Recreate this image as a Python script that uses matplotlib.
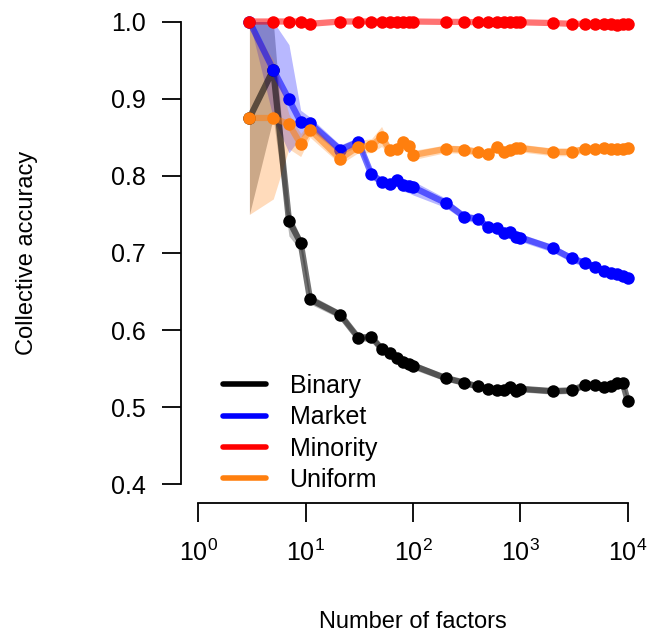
import numpy as np
import matplotlib
matplotlib.use('Agg')
import matplotlib.pyplot as plt
from matplotlib.lines import Line2D

plt.rcParams['font.family'] = ['Liberation Sans', 'DejaVu Sans']
plt.rcParams['mathtext.fontset'] = 'custom'
plt.rcParams['mathtext.rm'] = 'Liberation Sans'
plt.rcParams['mathtext.it'] = 'Liberation Sans'
plt.rcParams['mathtext.default'] = 'regular'

# number of factors (shared by all four series)
factors = [3, 5, 7, 9, 11, 21, 31, 41, 51, 61, 71, 81, 91, 101,
           201, 301, 401, 501, 601, 701, 801, 901, 1001,
           2001, 3001, 4001, 5001, 6001, 7001, 8001, 9001, 10001]

binary = [0.875, 0.9375, 0.742, 0.713, 0.640, 0.620, 0.590, 0.591, 0.576, 0.571, 0.564, 0.559, 0.556, 0.554,
          0.538, 0.532, 0.527, 0.524, 0.522, 0.523, 0.526, 0.521, 0.524,
          0.521, 0.522, 0.529, 0.529, 0.526, 0.527, 0.531, 0.531, 0.508]
binary_lo = [0.750, 0.875, 0.722, 0.703, 0.634, 0.615, 0.585, 0.586, 0.571, 0.566, 0.559, 0.554, 0.551, 0.549,
             0.534, 0.528, 0.523, 0.520, 0.518, 0.519, 0.522, 0.517, 0.520,
             0.517, 0.518, 0.525, 0.525, 0.522, 0.523, 0.527, 0.527, 0.504]
binary_hi = [1.000, 1.000, 0.755, 0.720, 0.646, 0.625, 0.595, 0.596, 0.581, 0.576, 0.569, 0.564, 0.561, 0.559,
             0.542, 0.536, 0.531, 0.528, 0.526, 0.527, 0.530, 0.525, 0.528,
             0.525, 0.526, 0.533, 0.533, 0.530, 0.531, 0.535, 0.535, 0.512]

market = [1.000, 0.9375, 0.899, 0.870, 0.868, 0.834, 0.844, 0.802, 0.7925, 0.790, 0.795, 0.788, 0.787, 0.785,
          0.765, 0.747, 0.744, 0.734, 0.733, 0.726, 0.727, 0.721, 0.720,
          0.706, 0.693, 0.687, 0.682, 0.677, 0.674, 0.6725, 0.670, 0.668]
market_lo = [1.000, 0.875, 0.830, 0.850, 0.860, 0.828, 0.838, 0.796, 0.787, 0.784, 0.789, 0.780, 0.778, 0.775,
             0.759, 0.742, 0.739, 0.729, 0.728, 0.721, 0.722, 0.716, 0.715,
             0.701, 0.688, 0.682, 0.677, 0.672, 0.669, 0.668, 0.665, 0.663]
market_hi = [1.000, 1.000, 0.970, 0.885, 0.876, 0.840, 0.850, 0.808, 0.798, 0.796, 0.801, 0.796, 0.795, 0.793,
             0.771, 0.752, 0.749, 0.739, 0.738, 0.731, 0.732, 0.726, 0.725,
             0.711, 0.698, 0.692, 0.687, 0.682, 0.679, 0.677, 0.675, 0.673]

minority = [1.000, 1.000, 1.000, 1.000, 0.997, 1.000, 1.000, 1.000, 1.000, 1.000, 1.000, 1.000, 1.000, 1.000,
            0.9995, 0.9995, 0.999, 0.999, 0.999, 0.999, 0.999, 0.999, 0.999,
            0.998, 0.997, 0.997, 0.9965, 0.9965, 0.9965, 0.996, 0.9965, 0.997]

uniform = [0.875, 0.875, 0.867, 0.841, 0.860, 0.822, 0.838, 0.839, 0.850, 0.833, 0.835, 0.844, 0.839, 0.827,
           0.835, 0.834, 0.831, 0.828, 0.838, 0.831, 0.834, 0.836, 0.836,
           0.831, 0.831, 0.835, 0.835, 0.836, 0.835, 0.835, 0.835, 0.836]
uniform_lo = [0.750, 0.770, 0.835, 0.825, 0.850, 0.815, 0.830, 0.830, 0.838, 0.826, 0.829, 0.836, 0.832, 0.821,
              0.830, 0.829, 0.826, 0.823, 0.833, 0.826, 0.829, 0.831, 0.831,
              0.826, 0.826, 0.830, 0.830, 0.831, 0.830, 0.830, 0.830, 0.831]
uniform_hi = [1.000, 0.950, 0.880, 0.855, 0.870, 0.830, 0.846, 0.848, 0.864, 0.840, 0.842, 0.852, 0.846, 0.833,
              0.840, 0.839, 0.836, 0.833, 0.843, 0.836, 0.839, 0.841, 0.841,
              0.836, 0.836, 0.840, 0.840, 0.841, 0.840, 0.840, 0.840, 0.841]

labels = ['Binary', 'Market', 'Minority', 'Uniform']
colors = ['black', '#0000ff', '#ff0000', '#ff7f0e']

fig = plt.figure(figsize=(6.49, 6.37), dpi=100)
ax = fig.add_axes([181 / 649, 134 / 637, 464 / 649, 500 / 637])

series = [
    (binary, binary_lo, binary_hi),
    (market, market_lo, market_hi),
    (minority, None, None),
    (uniform, uniform_lo, uniform_hi),
]

for (vals, lo, hi), col in zip(series, colors):
    if lo is not None:
        ax.fill_between(factors, lo, hi, color=col, alpha=0.28, linewidth=0)
    ax.plot(factors, vals, color=col, alpha=0.55, linewidth=4.5, solid_capstyle='butt')
    ax.plot(factors, vals, 'o', color=col, markersize=9, markeredgewidth=0)

ax.set_xscale('log')
ax.set_xlim(10 ** -0.16, 10 ** 4.16)
ax.set_ylim(0.376, 1.024)

ax.spines['top'].set_visible(False)
ax.spines['right'].set_visible(False)
ax.spines['left'].set_bounds(0.4, 1.0)
ax.spines['bottom'].set_bounds(1, 1e4)
ax.spines['left'].set_linewidth(1.3)
ax.spines['bottom'].set_linewidth(1.3)

ax.set_xticks([1, 10, 100, 1000, 10000])
ax.set_xticklabels(['$10^{0}$', '$10^{1}$', '$10^{2}$', '$10^{3}$', '$10^{4}$'])
ax.xaxis.set_minor_locator(matplotlib.ticker.NullLocator())
ax.set_yticks([0.4, 0.5, 0.6, 0.7, 0.8, 0.9, 1.0])
ax.set_yticklabels(['0.4', '0.5', '0.6', '0.7', '0.8', '0.9', '1.0'])
ax.tick_params(axis='both', length=13.5, width=1.3, labelsize=18, direction='out')
ax.tick_params(axis='y', pad=12)
ax.tick_params(axis='x', pad=13)

fig.text(413 / 649, 1 - 622 / 637, 'Number of factors', ha='center', va='center', fontsize=17)
fig.text(27 / 649, 1 - 253 / 637, 'Collective accuracy', ha='center', va='center',
         rotation=90, fontsize=17)

handles = [Line2D([0], [0], color=c, linewidth=4, solid_capstyle='round') for c in colors]
ax.legend(handles, labels, loc='lower left', bbox_to_anchor=(0.069, 0.002), frameon=False,
          fontsize=18, handlelength=1.7, handletextpad=0.96, labelspacing=0.295, borderaxespad=0.0)

fig.savefig('out.png', dpi=100)
